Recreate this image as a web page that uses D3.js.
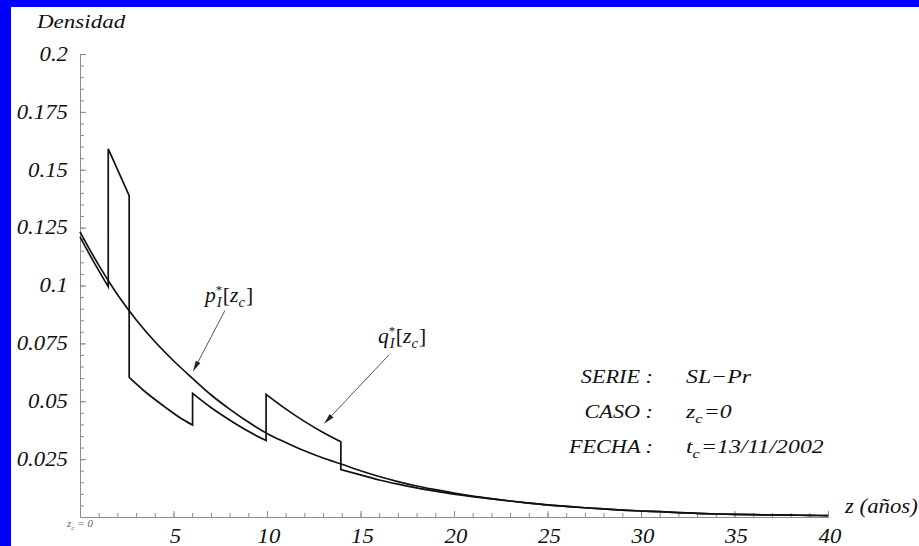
<!DOCTYPE html>
<html>
<head>
<meta charset="utf-8">
<script src="https://cdn.jsdelivr.net/npm/d3@7"></script>
<style>
  html, body { margin: 0; padding: 0; background: #fff; }
  svg { display: block; }
</style>
</head>
<body>
<svg id="chart" width="919" height="546"></svg>
<script>
// ---- data ----
// p*_I[z_c]: smooth density, sampled at whole years
const pZ = [0,1,2,3,4,5,6,7,8,9,10,11,12,13,14,15,16,17,18,19,20,
            21,22,23,24,25,26,27,28,29,30,31,32,33,34,35,36,37,38,39,40];
const pValues = [0.1232,0.1088,0.0961,0.0852,0.0758,0.0675,0.0600,0.0528,0.0466,0.0410,0.0361,
                 0.0322,0.0286,0.0255,0.0228,0.0200,0.0175,0.0153,0.0134,0.0118,0.0103,
                 0.0090,0.0079,0.0069,0.0060,0.0052,0.0046,0.0040,0.0035,0.0030,0.0026,
                 0.0023,0.0019,0.0016,0.0013,0.0011,0.0010,0.0009,0.0008,0.0007,0.0006];

// q*_I[z_c]: piecewise density; a repeated z marks a jump
const qZ = [0,0.75,1.51, 1.51,2.63, 2.63,3.5,4.5,5.5,6.02, 6.02,7,8,9,9.95,
            9.95,11,12,13,13.95, 13.95,15,16,17,18,19,20,21,22,
            23,24,25,26,27,28,29,30,31,32,33,34,35,36,37,38,39,40];
const qValues = [0.1210,0.1100,0.0995, 0.1590,0.1388, 0.0603,0.0540,0.0478,0.0421,0.0397,
                 0.0534,0.0473,0.0419,0.0370,0.0330,
                 0.0530,0.0467,0.0413,0.0365,0.0325,
                 0.0205,0.0182,0.0160,0.0142,0.0126,0.0112,0.0099,0.0088,0.0078,
                 0.0069,0.0060,0.0052,0.0046,0.0040,0.0035,0.0030,0.0026,
                 0.0023,0.0019,0.0016,0.0013,0.0011,0.0010,0.0009,0.0008,0.0007,0.0006];

const xTickValues = [5,10,15,20,25,30,35,40];
const xTickLabels = ["5","10","15","20","25","30","35","40"];
const yTickValues = [0.025,0.05,0.075,0.1,0.125,0.15,0.175,0.2];
const yTickLabels = ["0.025","0.05","0.075","0.1","0.125","0.15","0.175","0.2"];

const legendKeys = ["SERIE :", "CASO :", "FECHA :"];
const legendValues = [
  [{t: "SL\u2212Pr"}],
  [{t: "z"}, {t: "c", sub: true}, {t: "=0", dx: 1}],
  [{t: "t"}, {t: "c", sub: true}, {t: "=13/11/2002", dx: 1}]
];

// ---- layout ----
const W = 919, H = 546;
const SX = 1.14;   // horizontal stretch of the lettering
const FONT = "'Liberation Serif', 'Times New Roman', Times, serif";

const x = d3.scaleLinear().domain([0, 40]).range([80, 828]);
const y = d3.scaleLinear().domain([0, 0.2]).range([517, 54]);

const svg = d3.select("#chart");
svg.append("rect").attr("width", W).attr("height", H).attr("fill", "#0000ff");
svg.append("rect").attr("x", 11).attr("y", 7).attr("width", W - 11).attr("height", H - 7).attr("fill", "#ffffff");

// stretched italic text built from parts (sub/sup supported)
function label(px, py, parts, opts = {}) {
  const fs = opts.size || 20;
  const g = svg.append("g").attr("transform", `translate(${px},${py}) scale(${opts.sx || SX},1)`);
  const t = g.append("text")
    .style("font-family", FONT)
    .attr("font-size", fs)
    .attr("font-style", "italic")
    .attr("fill", opts.color || "#111")
    .attr("text-anchor", opts.anchor || "start");
  let shift = 0;
  parts.forEach(p => {
    const ts = t.append("tspan").text(p.t);
    let target = 0;
    if (p.sub) { ts.attr("font-size", fs * 0.68); target = fs * 0.25; }
    if (p.sup) { ts.attr("font-size", fs * 0.6); target = -fs * 0.4; }
    if (p.upright) ts.attr("font-style", "normal");
    if (p.dx) ts.attr("dx", p.dx);
    ts.attr("dy", target - shift);
    shift = target;
  });
  return g;
}

// ---- axes ----
const axisColor = "#8c8c8c";

const xMinor = d3.axisBottom(x).tickValues(d3.range(1, 41)).tickSizeInner(-4).tickSizeOuter(0).tickFormat("");
const xMajor = d3.axisBottom(x).tickValues(xTickValues).tickSizeInner(-6).tickSizeOuter(0).tickFormat("");
const yMinor = d3.axisLeft(y).tickValues(d3.range(1, 41).map(i => i * 0.005)).tickSizeInner(-4).tickSizeOuter(0).tickFormat("");
const yMajor = d3.axisLeft(y).tickValues(yTickValues).tickSizeInner(-6).tickSizeOuter(0).tickFormat("");

[[xMinor, `translate(0,${y(0)})`], [xMajor, `translate(0,${y(0)})`],
 [yMinor, `translate(${x(0)},0)`], [yMajor, `translate(${x(0)},0)`]].forEach(([ax, tr]) => {
  const g = svg.append("g").attr("transform", tr).call(ax);
  g.selectAll("path, line").attr("stroke", axisColor).attr("stroke-width", 1);
});

// tick labels
xTickValues.forEach((v, i) => label(x(v) + 2, 543, [{t: xTickLabels[i]}], {anchor: "middle", size: 20}));
yTickValues.forEach((v, i) => label(68, y(v) + 6.8, [{t: yTickLabels[i]}], {anchor: "end", size: 20}));

// axis titles
label(37, 28, [{t: "Densidad"}], {size: 19.5, sx: 1.18});
label(845, 513, [{t: "z (años)"}], {size: 20});
label(67, 527, [{t: "z"}, {t: "c", sub: true}, {t: " = 0"}], {size: 10.5, color: "#666", sx: 1.05});

// ---- curves ----
const lineGen = d3.line().x(d => x(d[0])).y(d => y(d[1])).curve(d3.curveMonotoneX);

svg.append("path")
  .attr("d", lineGen(pZ.map((z, i) => [z, pValues[i]])))
  .attr("fill", "none").attr("stroke", "#111").attr("stroke-width", 1.7);

// split q at repeated z values and join the pieces with vertical jumps
const qSegments = [];
let cur = [];
qZ.forEach((z, i) => {
  if (i > 0 && z === qZ[i - 1]) { qSegments.push(cur); cur = []; }
  cur.push([z, qValues[i]]);
});
qSegments.push(cur);
const qPath = qSegments.map((seg, i) => {
  const d = lineGen(seg);
  return i === 0 ? d : "L" + d.slice(1);
}).join("");
svg.append("path")
  .attr("d", qPath)
  .attr("fill", "none").attr("stroke", "#111").attr("stroke-width", 1.7)
  .attr("stroke-linejoin", "miter");

// ---- annotations ----
function arrow(from, to) {
  const x1 = x(from[0]), y1 = y(from[1]), x2 = x(to[0]), y2 = y(to[1]);
  const ang = Math.atan2(y2 - y1, x2 - x1);
  const len = 11, hw = 2.6;
  const bx = x2 - len * Math.cos(ang), by = y2 - len * Math.sin(ang);
  svg.append("line").attr("x1", x1).attr("y1", y1).attr("x2", bx).attr("y2", by)
    .attr("stroke", "#555").attr("stroke-width", 1);
  const px = -Math.sin(ang) * hw, py = Math.cos(ang) * hw;
  svg.append("path")
    .attr("d", `M${x2},${y2}L${bx + px},${by + py}L${bx - px},${by - py}Z`)
    .attr("fill", "#222");
}

arrow([7.75, 0.0892], [6.04, 0.0628]);
arrow([16.52, 0.0700], [13.05, 0.0403]);

const pLabel = [{t: "p"}, {t: "*", sup: true, upright: true}, {t: "I", sub: true, dx: -5}, {t: "[", upright: true, dx: 1}, {t: "z"}, {t: "c", sub: true}, {t: "]", upright: true, dx: 1}];
const qLabel = [{t: "q"}, {t: "*", sup: true, upright: true}, {t: "I", sub: true, dx: -5}, {t: "[", upright: true, dx: 1}, {t: "z"}, {t: "c", sub: true}, {t: "]", upright: true, dx: 1}];
label(205, 302, pLabel, {size: 20, sx: 1.08});
label(378, 343, qLabel, {size: 20, sx: 1.08});

// ---- info block ----
const legendBase = [383, 418, 453];
legendKeys.forEach((k, i) => {
  label(653, legendBase[i], [{t: k}], {anchor: "end", size: 19.5});
  label(686, legendBase[i], legendValues[i], {size: 19.5, sx: 1.22});
});
</script>
</body>
</html>
